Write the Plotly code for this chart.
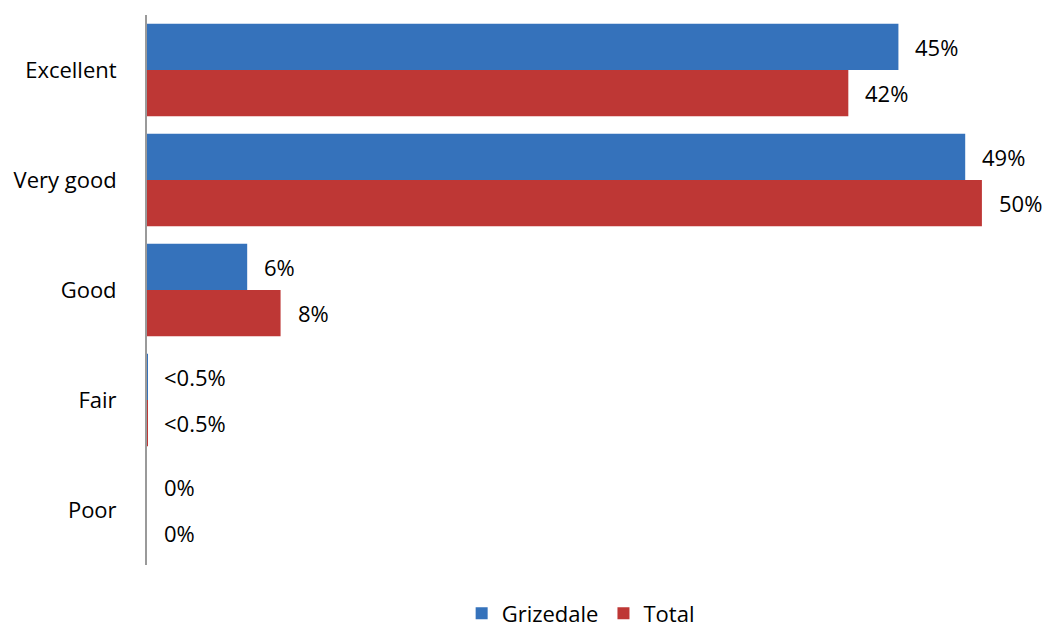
import plotly.graph_objects as go

# Ratings and shares (percent)
categories = ["Excellent", "Very good", "Good", "Fair", "Poor"]
grizedale = [45, 49, 6, 0.001, 0]
total = [42, 50, 8, 0.001, 0]
grizedale_labels = ["45%", "49%", "6%", "<0.5%", "0%"]
total_labels = ["42%", "50%", "8%", "<0.5%", "0%"]

BLUE = "#3572bb"
RED = "#be3735"
FONT = "Open Sans"
SIZE = 22

fig = go.Figure()
fig.add_trace(go.Bar(name="Grizedale", y=categories, x=grizedale, orientation="h",
                     marker=dict(color=BLUE, line=dict(width=0))))
fig.add_trace(go.Bar(name="Total", y=categories, x=total, orientation="h",
                     marker=dict(color=RED, line=dict(width=0))))

bargap = 0.16
half = (1 - bargap) / 4  # centre offset of each bar within its group

# value labels placed just past the end of each bar
for i, cat in enumerate(categories):
    for vals, labs, off in ((grizedale, grizedale_labels, -half), (total, total_labels, half)):
        fig.add_annotation(x=vals[i], y=i + off, xref="x", yref="y",
                           text=labs[i], showarrow=False, xanchor="left",
                           yanchor="middle", xshift=15,
                           font=dict(family=FONT, size=SIZE, color="#000"))

fig.update_layout(
    width=1046, height=628,
    margin=dict(l=147, r=14, t=15, b=63, autoexpand=False),
    paper_bgcolor="white", plot_bgcolor="white",
    barmode="group", bargap=bargap, bargroupgap=0,
    font=dict(family=FONT, size=SIZE, color="#000"),
    showlegend=True,
    legend=dict(orientation="h", x=0.49, xanchor="center", yref="paper",
                y=-0.088, yanchor="middle", itemwidth=30,
                font=dict(family=FONT, size=SIZE), traceorder="normal"),
    xaxis=dict(range=[0, 53], showgrid=False, zeroline=False, showticklabels=False,
               showline=False, fixedrange=True),
    yaxis=dict(autorange="reversed", showgrid=False, zeroline=False, showline=True,
               linecolor="#9a9a9a", linewidth=2, ticks="", ticklabelstandoff=24,
               layer="above traces", tickfont=dict(family=FONT, size=SIZE)),
)

fig.write_html("out.html")
